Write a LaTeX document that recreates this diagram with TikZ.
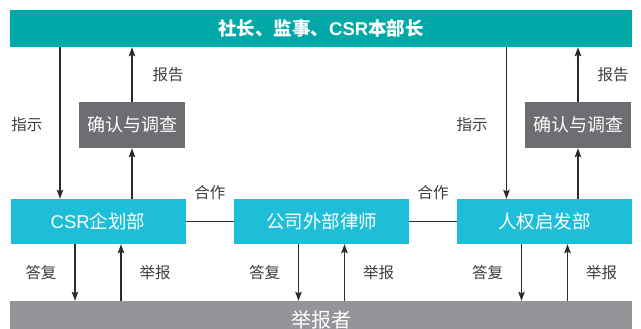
\documentclass[tikz,border=0pt]{standalone}
\usepackage{fontspec}
\setmainfont{Noto Sans CJK SC}
\newfontfamily\latinsans{Liberation Sans}
\usetikzlibrary{
arrows.meta,
calc,
}

\definecolor{topteal}{RGB}{0,169,168}
\definecolor{deptcyan}{RGB}{31,190,216}
\definecolor{checkgray}{RGB}{109,110,113}
\definecolor{reportgray}{RGB}{147,149,152}
\definecolor{linegray}{RGB}{45,42,43}
\definecolor{labelgray}{RGB}{60,60,60}

\tikzset{
	wide bar/.style={text=white, minimum width=622pt, inner sep=0pt},
	dept/.style={fill=deptcyan, text=white, minimum width=175pt, minimum height=45pt, inner sep=0pt, font=\fontsize{18.5}{19}\selectfont},
	check/.style={fill=checkgray, text=white, minimum width=106pt, minimum height=46pt, inner sep=0pt, font=\fontsize{18}{19}\selectfont},
	arr/.style={draw=linegray, line width=1.2pt, -{Stealth[length=9pt,width=6.5pt,inset=1.5pt]}},
	link/.style={draw=linegray, line width=1.2pt},
	lbl/.style={text=labelgray, inner sep=0pt, font=\fontsize{15.5}{16}\selectfont},
}

\begin{document}
\begin{tikzpicture}[x=1pt, y=-1pt]
			% Canvas
			\useasboundingbox (0,0) rectangle (641,329);
			\clip (0,0) rectangle (641,329);

			% Top and bottom bars
			\node[wide bar, fill=topteal, minimum height=37pt, font=\bfseries\fontsize{18.5}{19}\selectfont] (top) at (321,28.5) {社长、监事、{\latinsans CSR}本部长};
			\node[wide bar, fill=reportgray, minimum height=38pt, font=\fontsize{20}{20}\selectfont] (whistle) at (321,320) {举报者};

			% Departments
			\node[dept] (csr) at (98,221.5) {{\latinsans CSR}企划部};
			\node[dept] (lawyer) at (321.5,221.5) {公司外部律师};
			\node[dept] (hr) at (544.5,221.5) {人权启发部};

			% Confirmation boxes
			\node[check] (chkL) at (132,125) {确认与调查};
			\node[check] (chkR) at (578,125) {确认与调查};

			% Instructions and reports
			\draw[arr] ([xshift=-38]csr.north |- top.south) -- ([xshift=-38]csr.north);
			\draw[arr] (csr.north -| chkL) -- (chkL.south);
			\draw[arr] (chkL.north) -- (chkL.north |- top.south);
			\draw[arr] ([xshift=-38]hr.north |- top.south) -- ([xshift=-38]hr.north);
			\draw[arr] (hr.north -| chkR) -- (chkR.south);
			\draw[arr] (chkR.north) -- (chkR.north |- top.south);

			\node[lbl] at (27,125) {指示};
			\node[lbl] at ([xshift=36,yshift=27]chkL.north) {报告};
			\node[lbl] at (472,125) {指示};
			\node[lbl] at ([xshift=35,yshift=27]chkR.north) {报告};

			% Cooperation
			\draw[link] (csr.east) -- (lawyer.west);
			\draw[link] (lawyer.east) -- (hr.west);
			\node[lbl] at ([yshift=29]$(csr.east)!0.5!(lawyer.west)$) {合作};
			\node[lbl] at ([yshift=29]$(lawyer.east)!0.5!(hr.west)$) {合作};

			% Replies and whistleblowing
			\draw[arr] ([xshift=-23]csr.south) -- ([xshift=-23]csr.south |- whistle.north);
			\draw[arr] ([xshift=23]csr.south |- whistle.north) -- ([xshift=23]csr.south);
			\draw[arr] ([xshift=-23]lawyer.south) -- ([xshift=-23]lawyer.south |- whistle.north);
			\draw[arr] ([xshift=23]lawyer.south |- whistle.north) -- ([xshift=23]lawyer.south);
			\draw[arr] ([xshift=-23]hr.south) -- ([xshift=-23]hr.south |- whistle.north);
			\draw[arr] ([xshift=23]hr.south |- whistle.north) -- ([xshift=23]hr.south);

			\node[lbl] at ([xshift=-57,yshift=-28]csr.south) {答复};
			\node[lbl] at ([xshift=57,yshift=-28]csr.south) {举报};
			\node[lbl] at ([xshift=-57,yshift=-28]lawyer.south) {答复};
			\node[lbl] at ([xshift=57,yshift=-28]lawyer.south) {举报};
			\node[lbl] at ([xshift=-57,yshift=-28]hr.south) {答复};
			\node[lbl] at ([xshift=57,yshift=-28]hr.south) {举报};

		\end{tikzpicture}
\end{document}
